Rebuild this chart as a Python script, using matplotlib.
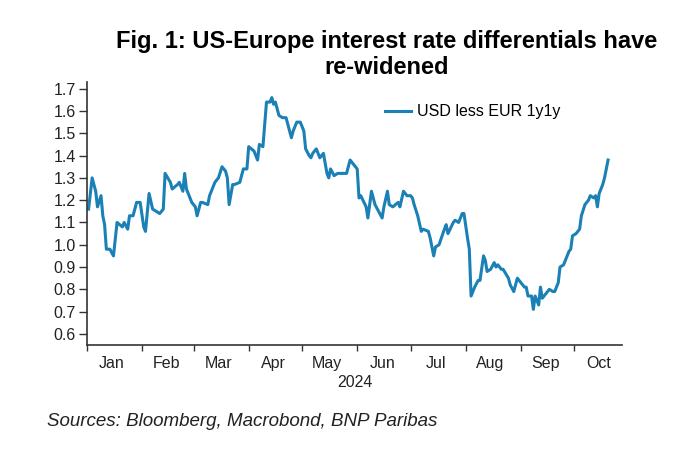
import numpy as np
import pandas as pd
import matplotlib
matplotlib.use('Agg')
import matplotlib.pyplot as plt
import matplotlib.dates as mdates

plt.rcParams['font.family'] = ['Liberation Sans', 'DejaVu Sans']

# USD less EUR 1y1y
dates = [
    '2024-01-02', '2024-01-04', '2024-01-06', '2024-01-07', '2024-01-09', '2024-01-10', '2024-01-11',
    '2024-01-12', '2024-01-14', '2024-01-16', '2024-01-18', '2024-01-21', '2024-01-22', '2024-01-24',
    '2024-01-25', '2024-01-27', '2024-01-29', '2024-01-31', '2024-02-02', '2024-02-03', '2024-02-05',
    '2024-02-07', '2024-02-11', '2024-02-13', '2024-02-14', '2024-02-17', '2024-02-18', '2024-02-21',
    '2024-02-22', '2024-02-24', '2024-02-25', '2024-02-26', '2024-02-29', '2024-03-02', '2024-03-03',
    '2024-03-05', '2024-03-06', '2024-03-09', '2024-03-10', '2024-03-13', '2024-03-15', '2024-03-17',
    '2024-03-19', '2024-03-20', '2024-03-21', '2024-03-23', '2024-03-24', '2024-03-27', '2024-03-29',
    '2024-03-31', '2024-04-01', '2024-04-04', '2024-04-06', '2024-04-07', '2024-04-09', '2024-04-11',
    '2024-04-13', '2024-04-14', '2024-04-15', '2024-04-16', '2024-04-18', '2024-04-20', '2024-04-22',
    '2024-04-23', '2024-04-25', '2024-04-26', '2024-04-28', '2024-04-30', '2024-05-02', '2024-05-03',
    '2024-05-05', '2024-05-06', '2024-05-07', '2024-05-09', '2024-05-11', '2024-05-13', '2024-05-15',
    '2024-05-16', '2024-05-17', '2024-05-19', '2024-05-21', '2024-05-24', '2024-05-26', '2024-05-28',
    '2024-05-29', '2024-06-01', '2024-06-02', '2024-06-03', '2024-06-06', '2024-06-07', '2024-06-09',
    '2024-06-11', '2024-06-13', '2024-06-15', '2024-06-16', '2024-06-18', '2024-06-19', '2024-06-21',
    '2024-06-24', '2024-06-25', '2024-06-27', '2024-06-29', '2024-07-01', '2024-07-02', '2024-07-03',
    '2024-07-05', '2024-07-07', '2024-07-08', '2024-07-11', '2024-07-12', '2024-07-14', '2024-07-15',
    '2024-07-17', '2024-07-20', '2024-07-21', '2024-07-22', '2024-07-25', '2024-07-26', '2024-07-28',
    '2024-07-30', '2024-07-31', '2024-08-02', '2024-08-03', '2024-08-04', '2024-08-06', '2024-08-08',
    '2024-08-09', '2024-08-11', '2024-08-12', '2024-08-13', '2024-08-15', '2024-08-17', '2024-08-18',
    '2024-08-19', '2024-08-21', '2024-08-22', '2024-08-25', '2024-08-26', '2024-08-28', '2024-08-30',
    '2024-09-01', '2024-09-03', '2024-09-04', '2024-09-05', '2024-09-07', '2024-09-08', '2024-09-09',
    '2024-09-11', '2024-09-12', '2024-09-13', '2024-09-15', '2024-09-17', '2024-09-19', '2024-09-20',
    '2024-09-22', '2024-09-23', '2024-09-25', '2024-09-26', '2024-09-28', '2024-09-29', '2024-09-30',
    '2024-10-02', '2024-10-04', '2024-10-05', '2024-10-07', '2024-10-09', '2024-10-10', '2024-10-12',
    '2024-10-13', '2024-10-14', '2024-10-15', '2024-10-17', '2024-10-18', '2024-10-19', '2024-10-20',
]
values = [
    1.16, 1.30, 1.24, 1.17, 1.22, 1.13, 1.09,
    0.98, 0.98, 0.95, 1.10, 1.08, 1.10, 1.07,
    1.13, 1.13, 1.19, 1.19, 1.08, 1.06, 1.23,
    1.16, 1.14, 1.16, 1.32, 1.28, 1.25, 1.27,
    1.28, 1.24, 1.32, 1.25, 1.19, 1.17, 1.13,
    1.19, 1.19, 1.18, 1.22, 1.28, 1.30, 1.35,
    1.33, 1.30, 1.18, 1.27, 1.27, 1.28, 1.34,
    1.34, 1.44, 1.42, 1.38, 1.45, 1.44, 1.64,
    1.64, 1.66, 1.63, 1.64, 1.58, 1.57, 1.57,
    1.54, 1.48, 1.51, 1.55, 1.55, 1.51, 1.43,
    1.40, 1.39, 1.41, 1.43, 1.39, 1.41, 1.32,
    1.30, 1.34, 1.31, 1.32, 1.32, 1.32, 1.38,
    1.37, 1.34, 1.21, 1.22, 1.17, 1.12, 1.24,
    1.18, 1.15, 1.12, 1.17, 1.24, 1.18, 1.17,
    1.19, 1.17, 1.24, 1.22, 1.22, 1.21, 1.18,
    1.13, 1.06, 1.07, 1.06, 1.03, 0.95, 0.99,
    1.00, 1.07, 1.09, 1.05, 1.10, 1.11, 1.10,
    1.14, 1.14, 1.03, 0.98, 0.77, 0.81, 0.84,
    0.84, 0.95, 0.93, 0.88, 0.89, 0.92, 0.90,
    0.91, 0.89, 0.89, 0.85, 0.82, 0.79, 0.85,
    0.83, 0.81, 0.81, 0.77, 0.77, 0.71, 0.77,
    0.73, 0.81, 0.76, 0.78, 0.80, 0.79, 0.79,
    0.83, 0.90, 0.91, 0.93, 0.97, 0.98, 1.04,
    1.05, 1.07, 1.13, 1.18, 1.20, 1.22, 1.21,
    1.22, 1.17, 1.23, 1.27, 1.30, 1.34, 1.38,
]
series_name = 'USD less EUR 1y1y'
y_ticks = [0.6, 0.7, 0.8, 0.9, 1.0, 1.1, 1.2, 1.3, 1.4, 1.5, 1.6, 1.7]

x = pd.to_datetime(dates)

fig = plt.figure(figsize=(7, 4.74), dpi=100)
ax = fig.add_axes([0.124, 0.272, 0.765, 0.555])

ax.plot(x, values, color='#1a80b6', lw=2.2, label=series_name, solid_joinstyle='round')

ax.set_xlim(pd.Timestamp('2024-01-01'), pd.Timestamp('2024-10-28'))
ax.set_ylim(0.55, 1.73)
ax.set_yticks(y_ticks)
ax.set_yticklabels(['%.1f' % t for t in y_ticks])

# month boundaries as ticks, month names centred in between
ax.xaxis.set_major_locator(mdates.MonthLocator())
ax.xaxis.set_major_formatter(plt.NullFormatter())
ax.xaxis.set_minor_locator(mdates.MonthLocator(bymonthday=15))
ax.xaxis.set_minor_formatter(mdates.DateFormatter('%b'))
ax.tick_params(axis='x', which='major', length=4, width=1, color='#333333')
ax.tick_params(axis='x', which='minor', length=0, pad=8, labelsize=11.5, labelcolor='#222222')
ax.tick_params(axis='y', length=6, width=1, color='#333333', labelsize=11.5, labelcolor='#222222',
               pad=2)

for s in ['top', 'right']:
    ax.spines[s].set_visible(False)
for s in ['left', 'bottom']:
    ax.spines[s].set_color('#333333')
    ax.spines[s].set_linewidth(1.2)

ax.set_xlabel('2024', fontsize=11.5, color='#222222', labelpad=3)

ax.legend(loc='upper left', bbox_to_anchor=(0.53, 0.97), frameon=False, fontsize=11.5,
          handlelength=1.6, handletextpad=0.4)

fig.text(0.553, 0.885, 'Fig. 1: US-Europe interest rate differentials have\nre-widened',
         ha='center', va='center', fontsize=17, fontweight='bold', linespacing=1.2)
fig.text(0.067, 0.11, 'Sources: Bloomberg, Macrobond, BNP Paribas', ha='left', va='center',
         fontsize=13.5, style='italic', color='#222222')

plt.savefig('out.png', dpi=100)
